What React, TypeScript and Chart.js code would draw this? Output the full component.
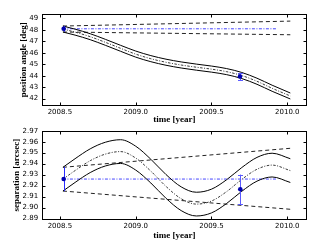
import { useEffect, useRef } from "react";
import { Chart, registerables } from "chart.js";

Chart.register(...registerables);

// ---------- shared x axis ----------
const xTicks = [2008.5, 2009.0, 2009.5, 2010.0];
const X_MIN = 2008.38;
const X_MAX = 2010.13;

// ---------- position angle panel ----------
const paYears = [2008.52, 2008.6, 2008.7, 2008.8, 2008.9, 2009.0, 2009.1, 2009.2, 2009.3, 2009.4, 2009.5, 2009.6, 2009.7, 2009.8, 2009.9, 2010.02];
const paUpper = [48.33, 48.06, 47.66, 47.17, 46.65, 46.15, 45.75, 45.44, 45.2, 45.01, 44.84, 44.62, 44.28, 43.78, 43.17, 42.49];
const paMid = [48.07, 47.8, 47.4, 46.91, 46.39, 45.88, 45.48, 45.17, 44.93, 44.74, 44.57, 44.35, 44.01, 43.51, 42.9, 42.23];
const paLower = [47.81, 47.54, 47.14, 46.65, 46.13, 45.62, 45.22, 44.91, 44.67, 44.48, 44.31, 44.09, 43.75, 43.25, 42.64, 41.97];
const paDashYears = [2008.52, 2010.02];
const paDashUpper = [48.33, 48.76];
const paDashLower = [47.81, 47.57];
const paRefYears = [2008.52, 2009.925];
const paRef = [48.09, 48.09];
const paObsYears = [2008.525, 2009.688];
const paObs = [48.09, 43.93];
const paObsErr = [0.25, 0.32];
const paTicks = [42, 43, 44, 45, 46, 47, 48, 49];

// ---------- separation panel ----------
const sepYears = [2008.52, 2008.6, 2008.7, 2008.8, 2008.9, 2009.0, 2009.1, 2009.2, 2009.3, 2009.4, 2009.5, 2009.6, 2009.7, 2009.8, 2009.9, 2010.02];
const sepUpper = [2.9367, 2.9445, 2.9535, 2.9595, 2.9618, 2.9559, 2.944, 2.9301, 2.9189, 2.914, 2.9168, 2.9254, 2.9365, 2.9457, 2.9495, 2.9445];
const sepMid = [2.9259, 2.9337, 2.9427, 2.9487, 2.951, 2.9451, 2.9332, 2.9193, 2.9081, 2.9032, 2.906, 2.9146, 2.9257, 2.9349, 2.9387, 2.9337];
const sepLower = [2.9151, 2.9229, 2.9319, 2.9379, 2.9402, 2.9342, 2.9224, 2.9085, 2.8973, 2.8924, 2.8952, 2.9038, 2.9149, 2.9241, 2.9279, 2.9229];
const sepDashYears = [2008.52, 2010.02];
const sepDashUpper = [2.9367, 2.954];
const sepDashLower = [2.9151, 2.8985];
const sepRefYears = [2008.52, 2009.925];
const sepRef = [2.926, 2.926];
const sepObsYears = [2008.525, 2009.69];
const sepObs = [2.926, 2.9167];
const sepObsErr = [0.011, 0.0134];
const sepTicks = [2.89, 2.9, 2.91, 2.92, 2.93, 2.94, 2.95, 2.96, 2.97];

const pts = (xs: number[], ys: number[]) => xs.map((x, i) => ({ x, y: ys[i] }));

const framePlugin = {
  id: "frame",
  afterDraw(chart: any) {
    const { ctx, chartArea: a, scales } = chart;
    const L = 3;
    const l = Math.round(a.left) + 0.5;
    const r = Math.round(a.right) - 0.5;
    const t = Math.round(a.top) + 0.5;
    const b = Math.round(a.bottom) - 0.5;
    ctx.save();
    ctx.strokeStyle = "#000";
    ctx.lineWidth = 1;
    ctx.setLineDash([]);
    ctx.strokeRect(l, t, r - l, b - t);
    ctx.beginPath();
    scales.x.ticks.forEach((tk: any) => {
      const px = Math.round(scales.x.getPixelForValue(tk.value)) + 0.5;
      ctx.moveTo(px, b);
      ctx.lineTo(px, b - L);
      ctx.moveTo(px, t);
      ctx.lineTo(px, t + L);
    });
    scales.y.ticks.forEach((tk: any) => {
      const py = Math.round(scales.y.getPixelForValue(tk.value)) + 0.5;
      ctx.moveTo(l, py);
      ctx.lineTo(l + L, py);
      ctx.moveTo(r, py);
      ctx.lineTo(r - L, py);
    });
    ctx.stroke();
    ctx.restore();
  },
};

const errPlugin = {
  id: "errbars",
  beforeDatasetDraw(chart: any, args: any, opts: any) {
    if (args.index !== 0) return;
    const { ctx, scales } = chart;
    const xs: number[] = opts.xs;
    const ys: number[] = opts.ys;
    const es: number[] = opts.errs;
    ctx.save();
    ctx.lineWidth = 1;
    ctx.setLineDash([]);
    xs.forEach((x, i) => {
      ctx.strokeStyle = i === 0 ? "#2a2aff" : "#5a5aff";
      const px = Math.round(scales.x.getPixelForValue(x)) + 0.5;
      const y1 = scales.y.getPixelForValue(ys[i] + es[i]);
      const y2 = scales.y.getPixelForValue(ys[i] - es[i]);
      ctx.beginPath();
      ctx.moveTo(px, y1);
      ctx.lineTo(px, y2);
      if (i > 0) {
        ctx.moveTo(px - 2.5, Math.round(y1) + 0.5);
        ctx.lineTo(px + 2.5, Math.round(y1) + 0.5);
        ctx.moveTo(px - 2.5, Math.round(y2) + 0.5);
        ctx.lineTo(px + 2.5, Math.round(y2) + 0.5);
      }
      ctx.stroke();
    });
    ctx.restore();
  },
};

type Panel = {
  years: number[];
  upper: number[];
  mid: number[];
  lower: number[];
  dashYears: number[];
  dashUpper: number[];
  dashLower: number[];
  refYears: number[];
  ref: number[];
  obsYears: number[];
  obs: number[];
  obsErr: number[];
  yTicks: number[];
  yMin: number;
  yMax: number;
  decimals: number;
  yTitle: string;
  height: number;
  padTop: number;
  plotBottom: number;
  yTitlePad: number;
  xTitlePad: number;
};

function buildConfig(p: Panel): any {
  const solid = { borderColor: "#000", borderWidth: 1, pointRadius: 0, cubicInterpolationMode: "monotone", fill: false };
  const tickFont = { family: "DejaVu Sans", size: 7 };
  const titleFont = { family: "Liberation Serif", size: 9, weight: "bold" };
  return {
    type: "line",
    data: {
      datasets: [
        {
          data: pts(p.obsYears, p.obs),
          showLine: false,
          pointRadius: 2.3,
          pointBackgroundColor: "#0000b0",
          pointBorderColor: "#0000b0",
          pointBorderWidth: 0,
        },
        { ...solid, data: pts(p.years, p.upper) },
        { ...solid, data: pts(p.years, p.lower) },
        { ...solid, borderWidth: 0.9, borderDash: [2.5, 1.5, 1, 1.5], borderColor: "#222", data: pts(p.years, p.mid) },
        { ...solid, borderDash: [4, 3], borderColor: "#222", data: pts(p.dashYears, p.dashUpper) },
        { ...solid, borderDash: [4, 3], borderColor: "#222", data: pts(p.dashYears, p.dashLower) },
        { ...solid, borderDash: [3, 1.5, 1, 1.5], borderColor: "#4646ff", data: pts(p.refYears, p.ref) },
      ],
    },
    options: {
      animation: false,
      responsive: false,
      events: [],
      layout: { padding: { left: 0, right: 19, top: p.padTop, bottom: 0 } },
      plugins: {
        legend: { display: false },
        tooltip: { enabled: false },
        errbars: { xs: p.obsYears, ys: p.obs, errs: p.obsErr },
      },
      scales: {
        x: {
          type: "linear",
          min: X_MIN,
          max: X_MAX,
          grid: { display: false, drawTicks: false },
          border: { display: false },
          afterBuildTicks: (s: any) => {
            s.ticks = xTicks.map((v) => ({ value: v }));
          },
          afterFit: (s: any) => {
            s.height = p.height - p.plotBottom;
          },
          ticks: { font: tickFont, color: "#000", padding: 2.5, maxRotation: 0, autoSkip: false, callback: (v: any) => Number(v).toFixed(1) },
          title: { display: true, text: "time [year]", font: titleFont, color: "#000", padding: { top: 0, bottom: p.xTitlePad } },
        },
        y: {
          type: "linear",
          min: p.yMin,
          max: p.yMax,
          grid: { display: false, drawTicks: false },
          border: { display: false },
          afterBuildTicks: (s: any) => {
            s.ticks = p.yTicks.map((v) => ({ value: v }));
          },
          afterFit: (s: any) => {
            s.width = 41.7;
          },
          ticks: { font: tickFont, color: "#000", padding: 3.5, autoSkip: false, callback: (v: any) => Number(v).toFixed(p.decimals) },
          title: { display: true, text: p.yTitle, font: titleFont, color: "#000", padding: { top: p.yTitlePad, bottom: 0 } },
        },
      },
    },
    plugins: [framePlugin, errPlugin],
  };
}

function PanelChart({ panel, top }: { panel: Panel; top: number }) {
  const ref = useRef<HTMLCanvasElement | null>(null);
  useEffect(() => {
    if (!ref.current) return;
    const chart = new Chart(ref.current, buildConfig(panel));
    return () => chart.destroy();
  }, [panel]);
  return (
    <canvas
      ref={ref}
      width={326}
      height={panel.height}
      style={{ position: "absolute", left: 0, top, width: 326, height: panel.height }}
    />
  );
}

const topPanel: Panel = {
  years: paYears,
  upper: paUpper,
  mid: paMid,
  lower: paLower,
  dashYears: paDashYears,
  dashUpper: paDashUpper,
  dashLower: paDashLower,
  refYears: paRefYears,
  ref: paRef,
  obsYears: paObsYears,
  obs: paObs,
  obsErr: paObsErr,
  yTicks: paTicks,
  yMin: 41.4,
  yMax: 49.38,
  decimals: 0,
  yTitle: "position angle [deg]",
  height: 128,
  padTop: 14,
  plotBottom: 105.5,
  yTitlePad: 18.6,
  xTitlePad: 2.6,
};

const bottomPanel: Panel = {
  years: sepYears,
  upper: sepUpper,
  mid: sepMid,
  lower: sepLower,
  dashYears: sepDashYears,
  dashUpper: sepDashUpper,
  dashLower: sepDashLower,
  refYears: sepRefYears,
  ref: sepRef,
  obsYears: sepObsYears,
  obs: sepObs,
  obsErr: sepObsErr,
  yTicks: sepTicks,
  yMin: 2.8892,
  yMax: 2.97,
  decimals: 2,
  yTitle: "separation [arcsec]",
  height: 123,
  padTop: 6,
  plotBottom: 96.5,
  yTitlePad: 11.6,
  xTitlePad: 4.6,
};

export default function App() {
  return (
    <div style={{ position: "absolute", left: 0, top: 0, width: 326, height: 246, background: "#fff" }}>
      <PanelChart panel={topPanel} top={0} />
      <PanelChart panel={bottomPanel} top={123} />
    </div>
  );
}
